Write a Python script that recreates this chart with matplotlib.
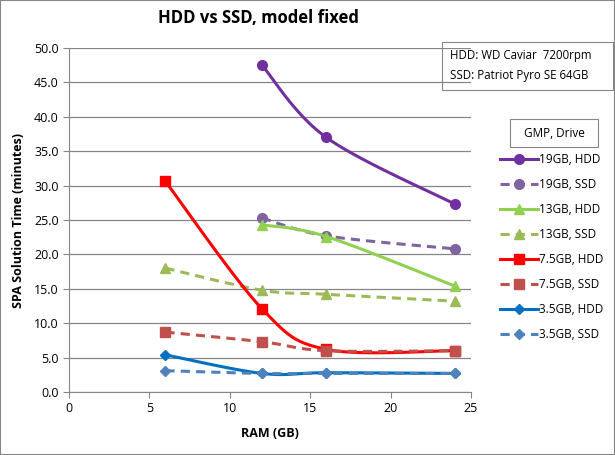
"""HDD vs SSD solution time chart, Excel-style smoothed lines."""
import numpy as np
import matplotlib
matplotlib.use("Agg")
import matplotlib.pyplot as plt
from matplotlib.lines import Line2D
from matplotlib.patches import Rectangle

plt.rcParams["font.family"] = ["Open Sans", "DejaVu Sans"]

ram_full = [6, 12, 16, 24]
ram_19 = [12, 16, 24]

hdd_19 = [47.5, 37.0, 27.3]
ssd_19 = [25.3, 22.7, 20.8]
hdd_13 = [24.3, 22.6, 15.4]
ssd_13 = [18.0, 14.8, 14.2, 13.2]
hdd_75 = [30.6, 12.1, 6.2, 6.0]
ssd_75 = [8.7, 7.3, 6.0, 6.0]
hdd_35 = [5.4, 2.7, 2.8, 2.7]
ssd_35 = [3.1, 2.7, 2.7, 2.7]

series = [
    ("19GB, HDD", ram_19, hdd_19, "#7030A0", "-", "o", 7),
    ("19GB, SSD", ram_19, ssd_19, "#8064A2", "--", "o", 7),
    ("13GB, HDD", ram_19, hdd_13, "#92D050", "-", "^", 7),
    ("13GB, SSD", ram_full, ssd_13, "#9BBB59", "--", "^", 7),
    ("7.5GB, HDD", ram_full, hdd_75, "#FF0000", "-", "s", 7),
    ("7.5GB, SSD", ram_full, ssd_75, "#C0504D", "--", "s", 7),
    ("3.5GB, HDD", ram_full, hdd_35, "#0070C0", "-", "D", 5.5),
    ("3.5GB, SSD", ram_full, ssd_35, "#4F81BD", "--", "D", 5.5),
]


def smooth(xs, ys, n=40):
    # Excel-like smoothing: cubic Bezier with Catmull-Rom control points
    p = np.column_stack([xs, ys]).astype(float)
    p = np.vstack([p[0], p, p[-1]])
    out = []
    for i in range(1, len(p) - 2):
        p0, p1, p2, p3 = p[i - 1], p[i], p[i + 1], p[i + 2]
        b1 = p1 + (p2 - p0) / 6
        b2 = p2 - (p3 - p1) / 6
        t = np.linspace(0, 1, n)[:, None]
        seg = ((1 - t) ** 3) * p1 + 3 * ((1 - t) ** 2) * t * b1 \
            + 3 * (1 - t) * t ** 2 * b2 + t ** 3 * p2
        out.append(seg)
    pts = np.vstack(out)
    return pts[:, 0], pts[:, 1]


fig = plt.figure(figsize=(6.15, 4.55), dpi=100)
ax = fig.add_axes([69 / 615, 1 - 392 / 455, 402 / 615, 344 / 455])

handles = []
for label, xs, ys, color, ls, marker, ms in series:
    sx, sy = smooth(xs, ys)
    kw = {"dashes": (3, 2)} if ls == "--" else {}
    ax.plot(sx, sy, color=color, lw=2.2, solid_capstyle="round", **kw)
    ax.plot(xs, ys, ls="none", marker=marker, ms=ms, color=color)
    handles.append(Line2D([], [], color=color, lw=2.2, marker=marker, ms=ms, **kw))

ax.set_xlim(0, 25)
ax.set_ylim(0, 50)
ax.set_xticks(range(0, 26, 5))
ax.set_yticks(np.arange(0, 50.1, 5))
ax.set_yticklabels([f"{v:.1f}" for v in np.arange(0, 50.1, 5)])
ax.yaxis.grid(True, color="#868686", lw=0.9)
ax.set_axisbelow(True)
for s in ["top", "right"]:
    ax.spines[s].set_visible(False)
for s in ["left", "bottom"]:
    ax.spines[s].set_color("#868686")
ax.tick_params(colors="#868686", labelcolor="black", labelsize=9, length=4)
ax.set_xlabel("RAM (GB)", fontsize=9, fontweight="bold", labelpad=8)
ax.set_ylabel("SPA Solution Time (minutes)", fontsize=9, fontweight="bold",
              labelpad=6)

fig.text(258 / 615, 1 - 18 / 455, "HDD vs SSD, model fixed", ha="center",
         va="center", fontsize=12, fontweight="bold")

fig.patches.append(Rectangle((442 / 615, 1 - 90 / 455), 171 / 615, 48 / 455,
                             transform=fig.transFigure, fill=False,
                             ec="#868686", lw=0.8))
fig.text(450 / 615, 1 - 56 / 455, "HDD: WD Caviar  7200rpm", fontsize=8.3, va="center")
fig.text(450 / 615, 1 - 75 / 455, "SSD: Patriot Pyro SE 64GB", fontsize=8.3, va="center")

fig.patches.append(Rectangle((510 / 615, 1 - 147 / 455), 88 / 615, 28 / 455,
                             transform=fig.transFigure, fill=False,
                             ec="#868686", lw=0.8))
fig.text(554 / 615, 1 - 133 / 455, "GMP, Drive", fontsize=8.5, ha="center", va="center")

fig.legend(handles, [s[0] for s in series], loc="upper left",
           bbox_to_anchor=(495 / 615, 1 - 148 / 455), frameon=False,
           fontsize=8.5, handlelength=3.2, handletextpad=0.1,
           labelspacing=1.02, borderaxespad=0)

fig.patches.append(Rectangle((0, 0), 1, 1, transform=fig.transFigure,
                             fill=False, ec="#868686", lw=1.5))

fig.savefig("out.png", dpi=100)
